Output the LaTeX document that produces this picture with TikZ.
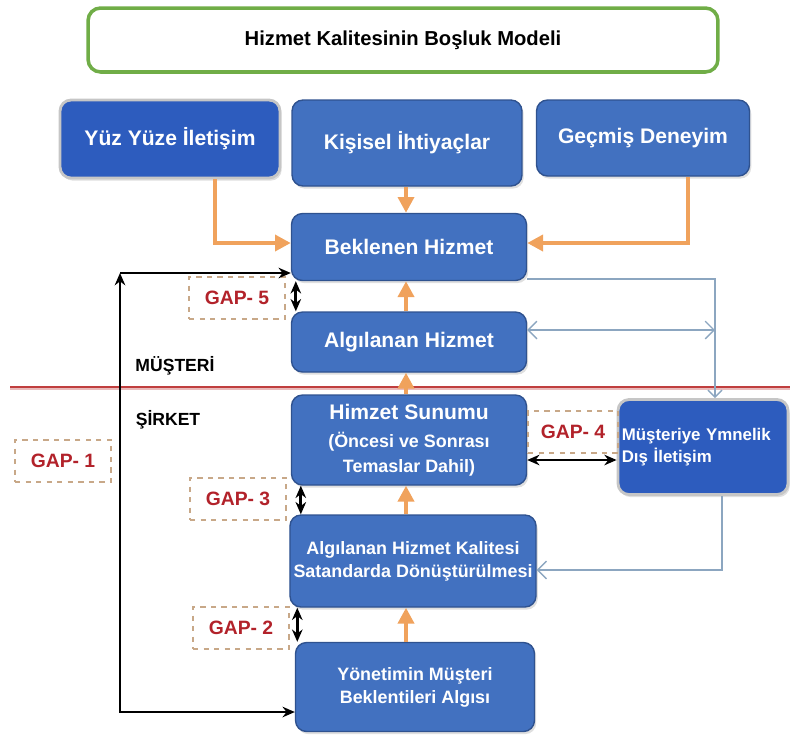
\documentclass[tikz,border=0pt]{standalone}
\usepackage{fontspec}
\setmainfont{Liberation Sans}
\usetikzlibrary{arrows.meta,shadows}
\definecolor{boxblue}{RGB}{66,113,192}
\definecolor{boxedge}{RGB}{47,82,143}
\definecolor{darkblue}{RGB}{45,92,190}
\definecolor{orangeA}{RGB}{240,162,92}
\definecolor{linegray}{RGB}{140,166,192}
\definecolor{gapred}{RGB}{178,34,42}
\definecolor{gapdash}{RGB}{200,168,136}
\definecolor{titlegreen}{RGB}{112,173,71}
\definecolor{redline}{RGB}{192,62,62}
\begin{document}
\begin{tikzpicture}[x=0.02cm,y=-0.02cm,
  bluebox/.style={rectangle, rounded corners=0.22cm, fill=boxblue, draw=boxedge, line width=0.8pt,
    text=white, font=\bfseries\fontsize{12}{14}\selectfont, align=center, inner sep=2pt,
    drop shadow={opacity=0.25, shadow xshift=1pt, shadow yshift=-1.5pt}},
  framedbox/.style={bluebox, fill=darkblue, draw=gray!45, line width=1.6pt},
  smalltxt/.style={font=\bfseries\fontsize{10.2}{13}\selectfont},
  gapbox/.style={rectangle, draw=gapdash, dashed, line width=0.6pt, text=gapred,
    font=\bfseries\fontsize{11}{13}\selectfont, minimum width=1.92cm, minimum height=0.84cm},
  titlebox/.style={rectangle, rounded corners=0.25cm, draw=titlegreen, line width=2pt, fill=white,
    font=\bfseries\fontsize{11.5}{14}\selectfont},
  oarrow/.style={draw=orangeA, line width=2.4pt, -{Triangle[length=9pt,width=9pt]}},
  blarrow/.style={draw=black, line width=1.6pt, {Stealth[length=7pt,width=6pt]}-{Stealth[length=7pt,width=6pt]}},
  thinline/.style={draw=linegray, line width=0.8pt},
  sidelabel/.style={font=\bfseries\fontsize{10}{12}\selectfont}]

\useasboundingbox (0,0) rectangle (790,738);

% title
\node[titlebox, minimum width=12.6cm, minimum height=1.28cm] (title) at (403,40) {Hizmet Kalitesinin Boşluk Modeli};

% top row
\node[framedbox, minimum width=4.4cm, minimum height=1.56cm] (yuz) at (170,139) {Yüz Yüze İletişim};
\node[bluebox, minimum width=4.6cm, minimum height=1.72cm] (kisisel) at (407,143) {Kişisel İhtiyaçlar};
\node[bluebox, minimum width=4.26cm, minimum height=1.52cm] (gecmis) at (643,138) {Geçmiş Deneyim};

% column
\node[bluebox, minimum width=4.7cm, minimum height=1.34cm] (beklenen) at (409,247) {Beklenen Hizmet};
\node[bluebox, minimum width=4.7cm, minimum height=1.2cm] (algilanan) at (409,342) {Algılanan Hizmet};
\node[bluebox, minimum width=4.7cm, minimum height=1.8cm] (himzet) at (409,440)
  {Himzet Sunumu\\[2pt]{\fontsize{10.2}{12}\selectfont(Öncesi ve Sonrası}\\{\fontsize{10.2}{12}\selectfont Temaslar Dahil)}};
\node[bluebox, smalltxt, minimum width=4.86cm, minimum height=1.84cm] (kalite) at (413,561)
  {Algılanan Hizmet Kalitesi\\Satandarda Dönüştürülmesi};
\node[bluebox, smalltxt, minimum width=4.78cm, minimum height=1.78cm] (yonetim) at (415,687)
  {Yönetimin Müşteri\\Beklentileri Algısı};
\node[framedbox, font=\bfseries\fontsize{9.6}{12.5}\selectfont, align=left, text width=3.25cm, minimum width=3.4cm, minimum height=1.9cm] (musteri) at (703,447)
  {\hyphenpenalty=10000 Müşteriye Ymnelik\\Dış İletişim};

% gap boxes
\node[gapbox] (gap5) at (237,298) {GAP- 5};
\node[gapbox, minimum width=1.8cm] (gap4) at (573,432) {GAP- 4};
\node[gapbox] (gap3) at (238,499) {GAP- 3};
\node[gapbox] (gap2) at (241,628) {GAP- 2};
\node[gapbox] (gap1) at (63,461) {GAP- 1};

% side labels
\node[sidelabel] (musterilbl) at (175,366) {MÜŞTERİ};
\node[sidelabel] (sirketlbl) at (168,420) {ŞİRKET};

% separator line
\draw[draw=redline!35, line width=2.4pt] (10,388) -- (790,388);
\draw[draw=redline, line width=1pt] (10,387) -- (790,387);

% orange arrows
\coordinate (col) at (406,0);
\draw[oarrow] ([xshift=0.9cm]yuz.south) |- ([yshift=0.08cm]beklenen.west);
\draw[oarrow] ([xshift=0.9cm]gecmis.south) |- ([yshift=0.08cm]beklenen.east);
\draw[oarrow] (kisisel.south -| col) -- (beklenen.north -| col);
\draw[oarrow] (algilanan.north -| col) -- (beklenen.south -| col);
\draw[oarrow] (himzet.north -| col) -- (algilanan.south -| col);
\draw[oarrow] (kalite.north -| col) -- (himzet.south -| col);
\draw[oarrow] (yonetim.north -| col) -- (kalite.south -| col);

% gap double arrows
\draw[blarrow] ([xshift=0.1cm]beklenen.south west) -- ([xshift=0.1cm]algilanan.north west);
\draw[blarrow] ([xshift=0.2cm]himzet.south west) -- ([xshift=0.2cm]himzet.south west |- kalite.north);
\draw[blarrow] ([xshift=0.16cm]kalite.south west) -- ([xshift=0.16cm]kalite.south west |- yonetim.north);
\coordinate (g4) at (0,460);
\draw[blarrow] (himzet.east |- g4) -- (musteri.west |- g4);

% black loop (GAP-1)
\coordinate (loop) at (120,273);
\coordinate (loopb) at (120,712);
\draw[black, line width=1.6pt, {Stealth[length=7pt,width=6pt]}-{Stealth[length=7pt,width=6pt]}] (loop) -- (loopb) -- (yonetim.west |- loopb);
\draw[black, line width=1.6pt, -{Stealth[length=7pt,width=6pt]}] (loop) -- (beklenen.west |- loop);

% thin grey-blue connectors
\coordinate (vx) at ([xshift=0.24cm]musteri.north);
\coordinate (bk) at ([yshift=-0.64cm]beklenen.east);
\coordinate (al) at ([yshift=0.24cm]algilanan.east);
\draw[thinline, -{Straight Barb[length=4pt]}] (bk) -| (vx);
\draw[thinline, {Straight Barb[length=5pt]}-{Straight Barb[length=5pt]}] (al) -- (al -| vx);
\draw[thinline, -{Straight Barb[length=5pt]}] ([xshift=0.38cm]musteri.south) |- ([yshift=-0.18cm]kalite.east);
\end{tikzpicture}
\end{document}
